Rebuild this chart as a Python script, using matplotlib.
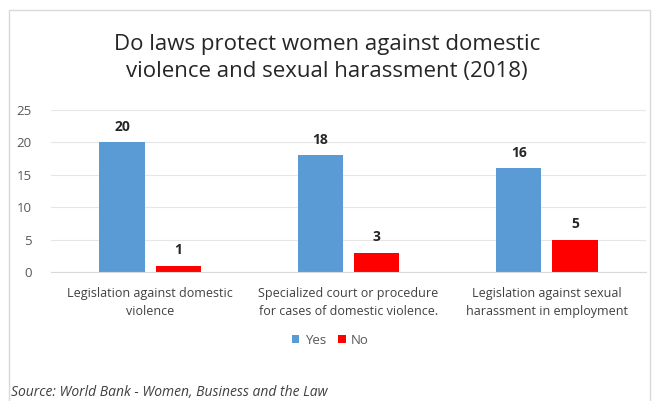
import numpy as np
import matplotlib.pyplot as plt
from matplotlib.patches import Rectangle

# chart data
categories = ['Legislation against domestic\nviolence',
              'Specialized court or procedure\nfor cases of domestic violence.',
              'Legislation against sexual\nharassment in employment']
yes_vals = [20, 18, 16]
no_vals = [1, 3, 5]
y_ticks = [0, 5, 10, 15, 20, 25]

plt.rcParams['font.family'] = ['Open Sans', 'DejaVu Sans']

fig = plt.figure(figsize=(6.54, 4.01), dpi=100)
# chart area border like the Excel frame
fig.patches.append(Rectangle((9 / 654, -0.01), 641 / 654, 1 - 10 / 401 + 0.01,
                             transform=fig.transFigure, fill=False,
                             edgecolor='#d9d9d9', linewidth=1))

ax = fig.add_axes([51 / 654, 1 - 272 / 401, 595 / 654, 162 / 401])
x = np.arange(len(categories))
w = 0.228
off = (w + 0.056) / 2
b1 = ax.bar(x - off, yes_vals, w, color='#5b9bd5', label='Yes')
b2 = ax.bar(x + off, no_vals, w, color='#ff0000', label='No')
for bars in (b1, b2):
    ax.bar_label(bars, padding=6, fontsize=10, fontweight='bold', color='#262626')

ax.set_xlim(-0.5, 2.5)
ax.set_ylim(0, 25)
ax.set_yticks(y_ticks)
ax.tick_params(axis='y', length=0, labelsize=9.5, labelcolor='#595959', pad=14)
ax.set_xticks(x)
ax.set_xticklabels(categories, fontsize=9, color='#404040', linespacing=1.45)
ax.tick_params(axis='x', length=0, pad=11)
ax.grid(axis='y', color='#e6e6e6', linewidth=0.8)
ax.set_axisbelow(True)
for s in ['top', 'right', 'left']:
    ax.spines[s].set_visible(False)
ax.spines['bottom'].set_color('#d9d9d9')

fig.text(0.5, 1 - 58 / 401, 'Do laws protect women against domestic\nviolence and sexual harassment (2018)',
         ha='center', va='center', fontsize=16, color='#262626', linespacing=1.4)

fig.legend(loc='center', bbox_to_anchor=(0.505, 1 - 340 / 401), ncol=2, frameon=False,
           fontsize=9.5, handlelength=0.6, handleheight=0.6, handletextpad=0.4,
           columnspacing=0.9, labelcolor='#595959')

fig.text(11 / 654, 1 - 392 / 401, 'Source: World Bank - Women, Business and the Law',
         ha='left', va='center', fontsize=10, style='italic', color='#404040')

fig.savefig('out.png', dpi=100)
